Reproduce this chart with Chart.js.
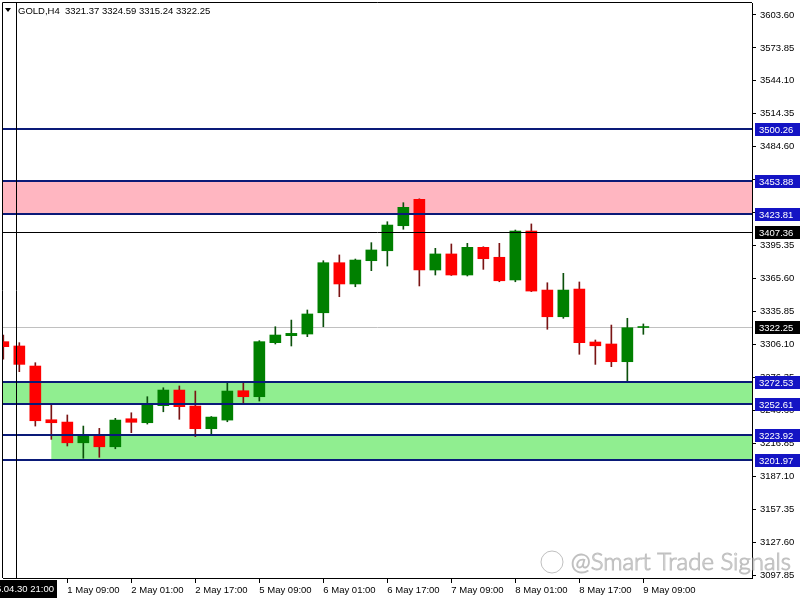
<!DOCTYPE html>
<html>
<head>
<meta charset="utf-8">
<script src="https://cdn.jsdelivr.net/npm/chart.js@4.4.1/dist/chart.umd.min.js"></script>
<style>
  html, body { margin: 0; padding: 0; background: #fff; }
</style>
</head>
<body>
<canvas id="chart" width="800" height="600"></canvas>
<script>
// GOLD H4 candles, 30 Apr 17:00 -> 9 May 09:00
const times = [
  '30 Apr 17:00', '30 Apr 21:00',
  '1 May 01:00', '1 May 05:00', '1 May 09:00', '1 May 13:00', '1 May 17:00', '1 May 21:00',
  '2 May 01:00', '2 May 05:00', '2 May 09:00', '2 May 13:00', '2 May 17:00', '2 May 21:00',
  '5 May 01:00', '5 May 05:00', '5 May 09:00', '5 May 13:00', '5 May 17:00', '5 May 21:00',
  '6 May 01:00', '6 May 05:00', '6 May 09:00', '6 May 13:00', '6 May 17:00', '6 May 21:00',
  '7 May 01:00', '7 May 05:00', '7 May 09:00', '7 May 13:00', '7 May 17:00', '7 May 21:00',
  '8 May 01:00', '8 May 05:00', '8 May 09:00', '8 May 13:00', '8 May 17:00', '8 May 21:00',
  '9 May 01:00', '9 May 05:00', '9 May 09:00'
];
const opens = [
  3308.6, 3304.7, 3286.6, 3238.1, 3236.0, 3217.3, 3223.4, 3213.7, 3239.0, 3235.4,
  3250.8, 3264.9, 3250.5, 3230.0, 3237.8, 3264.3, 3258.9, 3307.7, 3314.0, 3315.5,
  3334.7, 3379.9, 3360.7, 3381.7, 3390.7, 3413.3, 3437.2, 3373.3, 3387.8, 3368.8,
  3393.8, 3384.8, 3364.3, 3408.5, 3355.2, 3331.1, 3356.1, 3308.3, 3306.5, 3290.5,
  3321.37
];
const highs = [
  3314.6, 3307.7, 3289.6, 3252.3, 3242.4, 3232.4, 3230.3, 3239.4, 3244.4, 3258.9,
  3267.0, 3268.6, 3264.0, 3241.0, 3271.0, 3272.4, 3309.5, 3322.1, 3328.1, 3337.2,
  3381.7, 3386.9, 3383.2, 3398.0, 3416.9, 3434.1, 3437.6, 3392.9, 3396.8, 3397.4,
  3394.3, 3397.4, 3409.4, 3414.9, 3361.8, 3370.3, 3362.5, 3310.1, 3323.6, 3329.7,
  3324.59
];
const lows = [
  3292.7, 3281.5, 3232.4, 3220.4, 3214.4, 3203.3, 3204.2, 3211.9, 3226.4, 3234.2,
  3245.3, 3238.5, 3222.8, 3224.3, 3236.3, 3252.9, 3255.0, 3306.5, 3304.7, 3313.1,
  3322.1, 3349.2, 3358.2, 3372.7, 3376.9, 3410.1, 3358.9, 3368.8, 3368.4, 3367.9,
  3373.9, 3362.7, 3362.7, 3353.8, 3319.8, 3329.7, 3297.2, 3288.1, 3286.0, 3272.4,
  3315.24
];
const closes = [
  3304.1, 3288.1, 3237.2, 3235.4, 3217.3, 3223.4, 3213.7, 3237.8, 3235.8, 3251.4,
  3264.9, 3249.9, 3230.0, 3240.5, 3264.0, 3258.9, 3308.6, 3314.6, 3316.1, 3333.6,
  3379.9, 3360.7, 3382.3, 3391.4, 3413.9, 3429.9, 3373.3, 3387.8, 3368.8, 3393.8,
  3383.5, 3363.6, 3408.5, 3354.3, 3331.1, 3355.2, 3307.7, 3304.9, 3290.5, 3321.2,
  3322.25
];

// right axis price ticks
const priceTicks = [
  3603.60, 3573.85, 3544.10, 3514.35, 3484.60, 3454.85, 3425.10, 3395.35, 3365.60,
  3335.85, 3306.10, 3276.35, 3246.60, 3216.85, 3187.10, 3157.35, 3127.60, 3097.85
];
// time labels shown on the bottom axis
const axisTimes = ['1 May 09:00', '2 May 01:00', '2 May 17:00', '5 May 09:00', '6 May 01:00',
  '6 May 17:00', '7 May 09:00', '8 May 01:00', '8 May 17:00', '9 May 09:00'];

// horizontal levels and zones
const levels = [3500.26, 3453.88, 3423.81, 3272.53, 3252.61, 3223.92, 3201.97];
const resistZone = [3423.81, 3453.88];
const supportZone = [3252.61, 3272.53];
const lowerZone = [3201.97, 3223.92];
const lowerZoneStart = '1 May 05:00';
const crossPrice = 3407.36;
const crossTime = '2025.04.30 21:00';
const crossIdx = 1;
const bidPrice = 3322.25;
const header = 'GOLD,H4  3321.37 3324.59 3315.24 3322.25';

const FONT = '"Liberation Sans", Arial, sans-serif';
const up = opens.map((o, i) => closes[i] >= o);

const overlay = {
  id: 'overlay',
  beforeDatasetsDraw(chart) {
    const { ctx, chartArea: a, scales: { x, y } } = chart;
    ctx.save();
    const zone = (z, color, x0) => {
      const y1 = y.getPixelForValue(z[1]);
      const y0 = y.getPixelForValue(z[0]);
      ctx.fillStyle = color;
      ctx.fillRect(x0, y1, a.right - x0, y0 - y1);
    };
    zone(resistZone, '#ffb6c1', a.left);
    zone(supportZone, '#90ee90', a.left);
    zone(lowerZone, '#90ee90', x.getPixelForValue(times.indexOf(lowerZoneStart)));
    // bid line
    const yb = Math.round(y.getPixelForValue(bidPrice)) + 0.5;
    ctx.strokeStyle = '#c0c0c0';
    ctx.lineWidth = 1;
    ctx.beginPath(); ctx.moveTo(a.left, yb); ctx.lineTo(a.right, yb); ctx.stroke();
    ctx.restore();
  },
  afterDatasetsDraw(chart) {
    const { ctx, chartArea: a, scales: { x, y } } = chart;
    ctx.save();
    ctx.strokeStyle = '#0a1a78';
    ctx.lineWidth = 2;
    levels.forEach(v => {
      const py = Math.round(y.getPixelForValue(v));
      ctx.beginPath(); ctx.moveTo(a.left, py); ctx.lineTo(a.right, py); ctx.stroke();
    });
    // crosshair
    ctx.strokeStyle = '#000';
    ctx.lineWidth = 1;
    const yc = Math.round(y.getPixelForValue(crossPrice)) + 0.5;
    ctx.beginPath(); ctx.moveTo(a.left, yc); ctx.lineTo(a.right, yc); ctx.stroke();
    const xc = Math.round(x.getPixelForValue(crossIdx)) - 2.5;
    ctx.beginPath(); ctx.moveTo(xc, a.top); ctx.lineTo(xc, a.bottom); ctx.stroke();
    // frame top / left
    ctx.beginPath();
    ctx.moveTo(a.left - 0.5, a.bottom); ctx.lineTo(a.left - 0.5, a.top - 0.5); ctx.lineTo(a.right, a.top - 0.5);
    ctx.stroke();
    ctx.restore();
  },
  afterDraw(chart) {
    const { ctx, chartArea: a, scales: { y } } = chart;
    ctx.save();
    // price boxes on the right axis
    ctx.font = '9.5px ' + FONT;
    ctx.textBaseline = 'middle';
    ctx.textAlign = 'left';
    const box = (v, color) => {
      const py = Math.round(y.getPixelForValue(v));
      ctx.fillStyle = color;
      ctx.fillRect(a.right + 3, py - 6, 45, 13);
      ctx.fillStyle = '#fff';
      ctx.fillText(v.toFixed(2), a.right + 7, py + 1);
    };
    levels.forEach(v => box(v, '#1414c4'));
    box(crossPrice, '#000');
    box(bidPrice, '#000');
    // crosshair time box
    ctx.fillStyle = '#000';
    ctx.fillRect(0, a.bottom + 2, 57, 18);
    ctx.fillStyle = '#fff';
    ctx.font = '9.5px ' + FONT;
    ctx.textAlign = 'right';
    ctx.fillText(crossTime, 54, a.bottom + 11);
    // header
    ctx.fillStyle = '#000';
    ctx.beginPath();
    ctx.moveTo(5, 8); ctx.lineTo(11, 8); ctx.lineTo(8, 12); ctx.closePath(); ctx.fill();
    ctx.font = '9.5px ' + FONT;
    ctx.textAlign = 'left';
    ctx.fillText(header, 18, 11);
    // watermark
    ctx.strokeStyle = 'rgba(150,150,150,0.6)';
    ctx.lineWidth = 1;
    ctx.beginPath(); ctx.arc(552, 562, 11, 0, Math.PI * 2); ctx.stroke();
    ctx.font = '300 24px Lato, "Open Sans", sans-serif';
    ctx.textAlign = 'right';
    ctx.textBaseline = 'alphabetic';
    ctx.fillStyle = 'rgba(255,255,255,0.7)';
    ctx.fillText('@Smart Trade Signals', 791, 570);
    ctx.strokeText('@Smart Trade Signals', 791, 570);
    ctx.restore();
  }
};

new Chart(document.getElementById('chart'), {
  type: 'bar',
  data: {
    datasets: [
      {
        label: 'body',
        data: times.map((t, i) => ({ x: i, y: [opens[i], closes[i]] })),
        backgroundColor: up.map(u => (u ? '#008000' : '#ff0000')),
        barThickness: 11,
        minBarLength: 1,
        grouped: false,
        order: 1,
      },
      {
        label: 'wick',
        data: times.map((t, i) => ({ x: i, y: [lows[i], highs[i]] })),
        backgroundColor: up.map(u => (u ? '#0b500b' : '#7a1414')),
        barThickness: 1,
        grouped: false,
        order: 2,
      },
    ],
  },
  options: {
    responsive: false,
    animation: false,
    layout: { padding: { top: 3, left: 3, right: 0, bottom: 0 } },
    plugins: {
      legend: { display: false },
      tooltip: { enabled: false },
    },
    scales: {
      x: {
        type: 'linear',
        min: -0.02,
        max: 46.79,
        offset: false,
        afterBuildTicks: (s) => {
          s.ticks = axisTimes.map(t => ({ value: times.indexOf(t) }));
        },
        afterFit: (s) => {
          s.height = 22;
          s.paddingLeft = 0;
          s.paddingRight = 0;
        },
        ticks: {
          callback: (v) => times[v],
          align: 'start',
          autoSkip: false,
          maxRotation: 0,
          padding: 2,
          color: '#000',
          font: { family: FONT, size: 9.5 },
        },
        grid: { drawOnChartArea: false, offset: false, tickLength: 5, color: '#000' },
        border: { color: '#000' },
      },
      y: {
        position: 'right',
        min: 3095.2,
        max: 3614.4,
        afterBuildTicks: (s) => {
          s.ticks = priceTicks.map(v => ({ value: v }));
        },
        afterFit: (s) => {
          s.width = 48;
          s.paddingTop = 0;
          s.paddingBottom = 0;
        },
        ticks: {
          callback: (v) => v.toFixed(2),
          padding: 4,
          color: '#000',
          font: { family: FONT, size: 9.5 },
        },
        grid: { drawOnChartArea: false, tickLength: 4, color: '#000' },
        border: { color: '#000' },
      },
    },
  },
  plugins: [overlay],
});
</script>
</body>
</html>
